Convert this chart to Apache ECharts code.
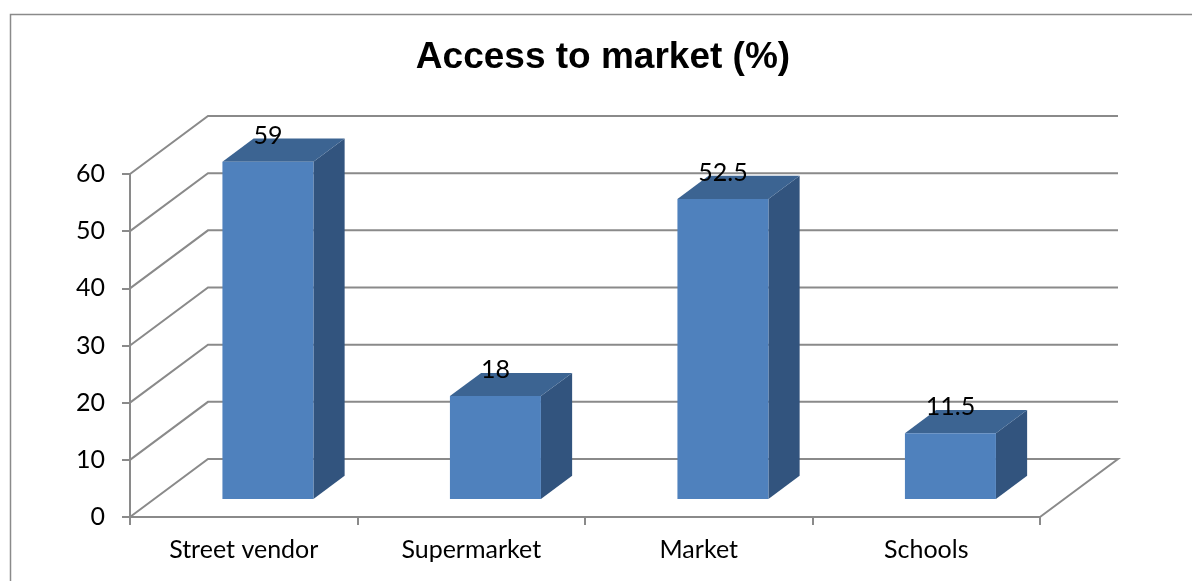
<!DOCTYPE html>
<html>
<head>
<meta charset="utf-8">
<script src="https://cdn.jsdelivr.net/npm/echarts@6/dist/echarts.min.js"></script>
<style>
  html, body { margin: 0; padding: 0; background: #fff; }
  #chart { width: 1192px; height: 581px; }
</style>
</head>
<body>
<div id="chart"></div>
<script>
// ---- data ----
const categories = ['Street vendor', 'Supermarket', 'Market', 'Schools'];
const values = [59, 18, 52.5, 11.5];
const valueTicks = [0, 10, 20, 30, 40, 50, 60];
const titleText = 'Access to market (%)';

// ---- oblique projection of the depth axis (pixel shift at full depth) ----
const DEPTH_DX = 78;
const DEPTH_DY = -58;
const BAR_FRONT = 0.31;   // depth fraction of bar front face
const BAR_BACK = 0.71;    // depth fraction of bar back face
const BAR_WIDTH = 0.4;    // fraction of category band

const GRID_COLOR = '#8a8a8a';
const TEXT_FONT = 'Lato, "Open Sans", sans-serif';
const TEXT_SIZE = 25;

// back wall grid lines + side diagonals + floor outline
function renderWall(params, api) {
  const v = api.value(1);
  const cs = params.coordSys;
  const y = api.coord([0, v])[1];
  const x0 = cs.x;
  const x1 = cs.x + cs.width;
  const pts = [[x0, y], [x0 + DEPTH_DX, y + DEPTH_DY], [x1 + DEPTH_DX, y + DEPTH_DY]];
  if (v === 0) pts.push([x1, y]);
  return {
    type: 'polyline',
    silent: true,
    shape: { points: pts },
    style: { stroke: GRID_COLOR, lineWidth: 2, fill: null }
  };
}

// 3D box bars with value label on top
function renderBar(params, api) {
  const i = api.value(0);
  const v = api.value(1);
  const top = api.coord([i, v]);
  const base = api.coord([i, 0]);
  const band = api.size([1, 0])[0];
  const w = band * BAR_WIDTH;
  const fx = top[0] - w / 2 + BAR_FRONT * DEPTH_DX;
  const fyTop = top[1] + BAR_FRONT * DEPTH_DY;
  const fyBot = base[1] + BAR_FRONT * DEPTH_DY;
  const d = BAR_BACK - BAR_FRONT;
  const ddx = d * DEPTH_DX;
  const ddy = d * DEPTH_DY;
  return {
    type: 'group',
    children: [
      {
        type: 'polygon',
        shape: { points: [[fx + w, fyTop], [fx + w + ddx, fyTop + ddy], [fx + w + ddx, fyBot + ddy], [fx + w, fyBot]] },
        style: { fill: '#32547E' }
      },
      {
        type: 'polygon',
        shape: { points: [[fx, fyTop], [fx + ddx, fyTop + ddy], [fx + w + ddx, fyTop + ddy], [fx + w, fyTop]] },
        style: { fill: '#3C6492' }
      },
      {
        type: 'rect',
        shape: { x: fx, y: fyTop, width: w, height: fyBot - fyTop },
        style: { fill: '#4F81BD' }
      },
      {
        type: 'text',
        x: fx + w / 2,
        y: fyTop + ddy - 3,
        style: {
          text: String(values[i]),
          fill: '#000',
          font: TEXT_SIZE + 'px ' + TEXT_FONT,
          align: 'center',
          verticalAlign: 'middle'
        }
      }
    ]
  };
}

const chart = echarts.init(document.getElementById('chart'), null, { renderer: 'canvas' });

chart.setOption({
  animation: false,
  backgroundColor: '#fff',
  graphic: [
    {
      type: 'rect',
      left: 8, top: 12,
      shape: { x: 0, y: 0, width: 1200, height: 600 },
      style: { fill: null, stroke: '#8a8a8a', lineWidth: 1.5 },
      silent: true
    },
    {
      type: 'text',
      x: 603, y: 58,
      style: {
        text: titleText,
        fill: '#000',
        font: 'bold 37px "Liberation Sans", Arial, sans-serif',
        align: 'center',
        verticalAlign: 'middle'
      }
    }
  ],
  grid: { left: 130, right: 152, top: 174, bottom: 64 },
  xAxis: {
    type: 'category',
    data: categories,
    boundaryGap: true,
    axisLine: { show: true, lineStyle: { color: GRID_COLOR, width: 2 } },
    axisTick: { show: true, length: 8, interval: 0, lineStyle: { color: GRID_COLOR, width: 2 } },
    axisLabel: {
      interval: 0,
      margin: 19,
      color: '#000',
      fontFamily: TEXT_FONT,
      fontSize: TEXT_SIZE,
      lineHeight: 27
    },
    splitLine: { show: false }
  },
  yAxis: {
    type: 'value',
    min: 0,
    max: 60,
    interval: 10,
    axisLine: { show: true, lineStyle: { color: GRID_COLOR, width: 2 } },
    axisTick: { show: true, length: 8, lineStyle: { color: GRID_COLOR, width: 2 } },
    axisLabel: {
      margin: 25,
      color: '#000',
      fontFamily: TEXT_FONT,
      fontSize: TEXT_SIZE,
      formatter: (v) => valueTicks.includes(v) ? String(v) : ''
    },
    splitLine: { show: false }
  },
  series: [
    {
      type: 'custom',
      name: 'wall',
      renderItem: renderWall,
      encode: { x: 0, y: 1 },
      data: valueTicks.map((v) => [categories[0], v]),
      silent: true,
      clip: false,
      z: 1
    },
    {
      type: 'custom',
      name: 'Access to market (%)',
      renderItem: renderBar,
      encode: { x: 0, y: 1 },
      data: categories.map((c, i) => [c, values[i]]),
      clip: false,
      z: 5
    }
  ]
});
</script>
</body>
</html>
